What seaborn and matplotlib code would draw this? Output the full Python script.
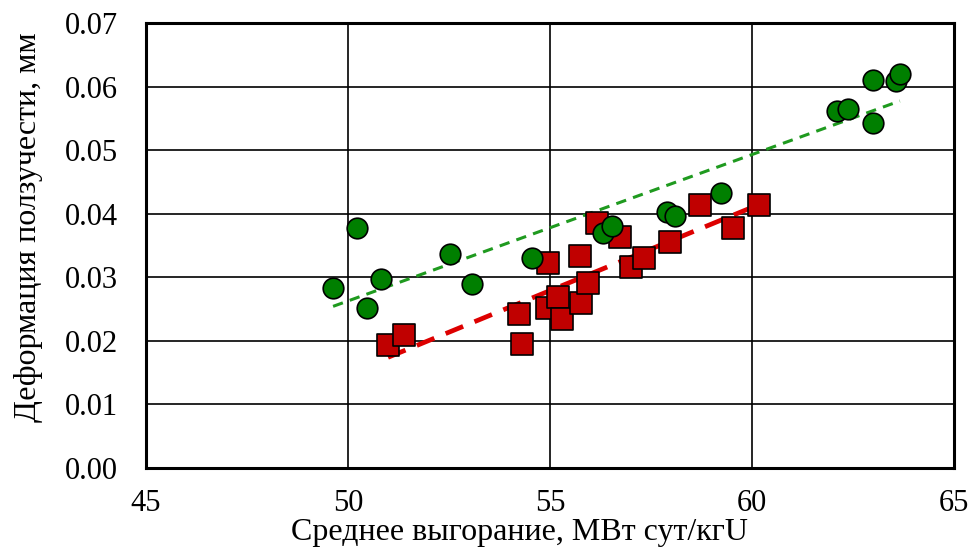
import matplotlib
matplotlib.use("Agg")
import matplotlib.pyplot as plt
import seaborn as sns
import pandas as pd
from matplotlib.ticker import FormatStrFormatter, MultipleLocator

# данные
green_x = [49.63, 50.22, 50.47, 50.82, 52.52, 53.07, 54.55, 56.31, 56.53, 57.90,
           58.09, 59.23, 62.10, 62.38, 63.00, 63.00, 63.56, 63.66]
green_y = [0.0283, 0.0378, 0.0251, 0.0298, 0.0336, 0.0289, 0.0331, 0.0370, 0.0381, 0.0403,
           0.0396, 0.0433, 0.0562, 0.0564, 0.0542, 0.0611, 0.0609, 0.0619]

red_x = [50.99, 51.39, 54.23, 54.31, 54.95, 54.93, 55.20, 55.30, 55.77, 55.74,
         55.94, 56.16, 56.73, 57.00, 57.33, 57.97, 58.71, 59.53, 60.17]
red_y = [0.0193, 0.0210, 0.0242, 0.0195, 0.0322, 0.0251, 0.0269, 0.0235, 0.0259, 0.0334,
         0.0291, 0.0385, 0.0364, 0.0316, 0.0330, 0.0356, 0.0413, 0.0378, 0.0414]

x_ticks = [45, 50, 55, 60, 65]

green = pd.DataFrame({"x": green_x, "y": green_y})
red = pd.DataFrame({"x": red_x, "y": red_y})

sns.set_style("white")
plt.rcParams["font.family"] = ["Liberation Serif", "DejaVu Serif"]

fig = plt.figure(figsize=(9.71, 5.49), dpi=100)
ax = fig.add_axes([0.1504, 0.1475, 0.8321, 0.8106])

# линии тренда
sns.regplot(data=green, x="x", y="y", scatter=False, ci=None, truncate=True, ax=ax,
            line_kws=dict(color="#1f9a1f", lw=2.2, ls=(0, (3.4, 2.4)), zorder=3))
sns.regplot(data=red, x="x", y="y", scatter=False, ci=None, truncate=True, ax=ax,
            line_kws=dict(color="#dd0000", lw=3.4, ls=(0, (4, 2.6)), zorder=3))

# точки
sns.scatterplot(data=red, x="x", y="y", marker="s", s=230, color="#c00000",
                edgecolor="black", linewidth=1.2, ax=ax, zorder=4)
sns.scatterplot(data=green, x="x", y="y", marker="o", s=220, color="#007f00",
                edgecolor="black", linewidth=1.2, ax=ax, zorder=5)

ax.set_xlim(45, 65)
ax.set_ylim(0, 0.07)
ax.set_xticks(x_ticks)
ax.yaxis.set_major_locator(MultipleLocator(0.01))
ax.yaxis.set_major_formatter(FormatStrFormatter("%.2f"))

ax.grid(True, color="black", lw=1.2)
ax.set_axisbelow(True)
for sp in ax.spines.values():
    sp.set_color("black")
    sp.set_linewidth(2.2)

ax.tick_params(axis="both", direction="out", length=7, width=1.2, color="black",
               labelsize=22, labelcolor="black")
ax.tick_params(axis="x", pad=8)
ax.tick_params(axis="y", pad=13)

ax.set_xlabel("Среднее выгорание, МВт сут/кгU", fontsize=23, color="black")
ax.set_ylabel("Деформация ползучести, мм", fontsize=23, color="black")
ax.xaxis.set_label_coords(0.4616, -0.112)
ax.yaxis.set_label_coords(-0.128, 0.5416)

fig.savefig("out.png", dpi=100)
